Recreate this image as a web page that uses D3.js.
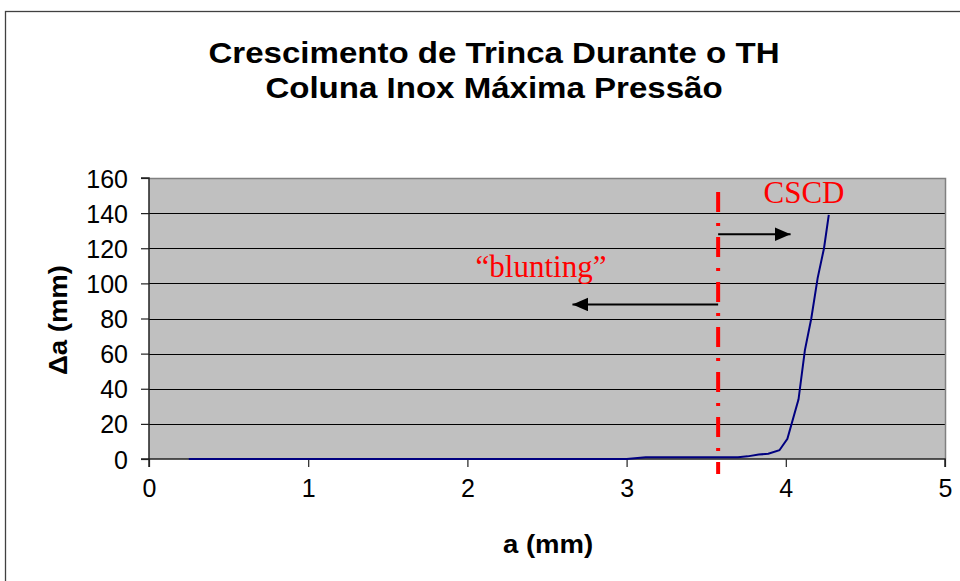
<!DOCTYPE html>
<html>
  <head>
    <meta charset="utf-8">
    <style>
      body { margin: 0; background: #fff; }
      svg { display: block; }
      text { font-family: Arial, "Liberation Sans", sans-serif; }
      .serif { font-family: "Times New Roman", "Liberation Serif", serif; }
    </style>
    <script src="https://d3js.org/d3.v7.min.js"></script>
  </head>
  <body>
    <div id="chart"></div>
    <script>
      // crack growth data
      var aValues = [0.25, 3.0, 3.12, 3.70, 3.76, 3.83, 3.89, 3.96, 4.01, 4.08, 4.12, 4.16, 4.20, 4.24, 4.27];
      var deltaValues = [0, 0, 1, 1, 1.5, 2.5, 3, 5, 11.5, 34, 62, 80, 103, 120, 139];
      var xTicks = [0, 1, 2, 3, 4, 5];
      var yTicks = [0, 20, 40, 60, 80, 100, 120, 140, 160];
      var titleLines = ["Crescimento de Trinca Durante o TH", "Coluna Inox Máxima Pressão"];
      var cscdA = 3.575; // position of the red dash-dot line

      var width = 960, height = 581;
      var plot = {left: 149, right: 945, top: 178, bottom: 459};

      var svg = d3.select("#chart").append("svg")
        .attr("width", width)
        .attr("height", height);

      // outer frame
      svg.append("rect")
        .attr("x", 5.5).attr("y", 11.5)
        .attr("width", 1000).attr("height", 1000)
        .attr("fill", "#fff")
        .attr("stroke", "#404040")
        .attr("stroke-width", 1.3);

      var x = d3.scaleLinear().domain([0, 5]).range([plot.left, plot.right]);
      var y = d3.scaleLinear().domain([0, 160]).range([plot.bottom, plot.top]);

      // bold text in the original is drawn a bit wider than Arial
      function wideText(cx, cy, str, size, sx, rot) {
        return svg.append("text")
          .attr("transform", "translate(" + cx + "," + cy + ")" + (rot ? " rotate(" + rot + ")" : "") + " scale(" + sx + ",1)")
          .attr("text-anchor", "middle")
          .attr("font-size", size)
          .attr("font-weight", "bold")
          .text(str);
      }

      // title
      titleLines.forEach(function(t, i) {
        wideText(494, 63 + i * 34.5, t, 29, 1.14);
      });

      // plot background
      svg.append("rect")
        .attr("x", plot.left).attr("y", plot.top)
        .attr("width", plot.right - plot.left).attr("height", plot.bottom - plot.top)
        .attr("fill", "#c0c0c0");

      // gridlines
      svg.append("g")
        .selectAll("line")
        .data(yTicks.filter(function(d) { return d > 0 && d < 160; }))
        .enter().append("line")
        .attr("x1", plot.left).attr("x2", plot.right)
        .attr("y1", function(d) { return Math.round(y(d)) + 0.5; })
        .attr("y2", function(d) { return Math.round(y(d)) + 0.5; })
        .attr("stroke", "#000")
        .attr("stroke-width", 1);

      // plot border (top and right gray)
      svg.append("path")
        .attr("d", "M" + plot.left + "," + (plot.top + 0.5) + "H" + (plot.right + 0.5) + "V" + plot.bottom)
        .attr("fill", "none")
        .attr("stroke", "#808080")
        .attr("stroke-width", 1.5);

      // axes
      var xAxis = d3.axisBottom(x).tickValues(xTicks).tickSize(8).tickPadding(6).tickFormat(d3.format("d"));
      var yAxis = d3.axisLeft(y).tickValues(yTicks).tickSize(8).tickPadding(13).tickFormat(d3.format("d"));

      var gx = svg.append("g")
        .attr("transform", "translate(0," + plot.bottom + ")")
        .call(xAxis);
      var gy = svg.append("g")
        .attr("transform", "translate(" + plot.left + ",0)")
        .call(yAxis);

      [gx, gy].forEach(function(g) {
        g.select(".domain").attr("stroke", "#222").attr("stroke-width", 1.5);
        g.selectAll(".tick line").attr("stroke", "#222").attr("stroke-width", 1.2);
        g.selectAll(".tick text")
          .attr("font-family", "Arial, 'Liberation Sans', sans-serif")
          .attr("font-size", 25)
          .attr("fill", "#000");
      });
      gx.select(".domain").attr("d", "M" + plot.left + ",8V0H" + plot.right + "V8");
      gy.select(".domain").attr("d", "M-8," + plot.top + "H0V" + plot.bottom + "H-8");
      gx.selectAll(".tick text").attr("dy", "0.95em");
      gy.selectAll(".tick text").attr("dy", "0.36em");

      // axis titles
      wideText(548, 553, "a (mm)", 25, 1.1);
      wideText(67, 320, "Δa (mm)", 25, 1.1, -90);

      // the curve
      var line = d3.line()
        .x(function(d) { return x(d[0]); })
        .y(function(d) { return y(d[1]); });

      svg.append("path")
        .datum(d3.zip(aValues, deltaValues))
        .attr("d", line)
        .attr("fill", "none")
        .attr("stroke", "#000080")
        .attr("stroke-width", 2);

      // annotations
      var defs = svg.append("defs");
      defs.append("marker")
        .attr("id", "head")
        .attr("viewBox", "0 0 16 14")
        .attr("refX", 16).attr("refY", 7)
        .attr("markerWidth", 16).attr("markerHeight", 14)
        .attr("markerUnits", "userSpaceOnUse")
        .attr("orient", "auto")
        .append("path")
        .attr("d", "M0,0L16,7L0,14Z")
        .attr("fill", "#000");

      svg.append("line")
        .attr("x1", x(cscdA)).attr("x2", x(4.03))
        .attr("y1", y(128)).attr("y2", y(128))
        .attr("stroke", "#000").attr("stroke-width", 2)
        .attr("marker-end", "url(#head)");

      svg.append("line")
        .attr("x1", x(cscdA)).attr("x2", x(2.66))
        .attr("y1", y(88)).attr("y2", y(88))
        .attr("stroke", "#000").attr("stroke-width", 2)
        .attr("marker-end", "url(#head)");

      svg.append("line")
        .attr("x1", x(cscdA)).attr("x2", x(cscdA))
        .attr("y1", y(152)).attr("y2", y(-8.5))
        .attr("stroke", "#ff0000")
        .attr("stroke-width", 4)
        .attr("stroke-dasharray", "20,11,3,11");

      svg.append("text")
        .attr("class", "serif")
        .attr("x", 541).attr("y", y(103.5))
        .attr("text-anchor", "middle")
        .attr("font-size", 31)
        .attr("fill", "#ff0000")
        .text("\u201cblunting\u201d");

      svg.append("text")
        .attr("class", "serif")
        .attr("x", 804).attr("y", y(146))
        .attr("text-anchor", "middle")
        .attr("font-size", 31)
        .attr("fill", "#ff0000")
        .text("CSCD");
    </script>
  </body>
</html>
